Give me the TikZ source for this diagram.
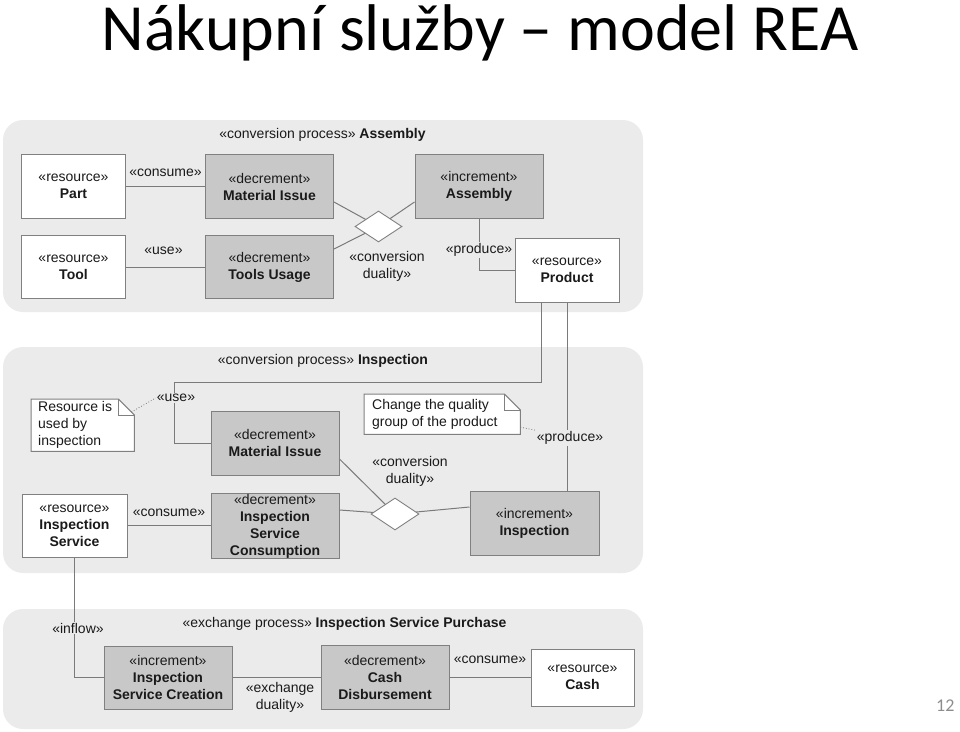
\documentclass[tikz,border=0pt]{standalone}
\usepackage{fontspec}
\setmainfont{Liberation Sans}
\newfontfamily\titlefont{Carlito}
\usetikzlibrary{shapes.geometric}
\definecolor{panelbg}{HTML}{EBEBEB}
\definecolor{boxgray}{HTML}{C8C8C8}
\definecolor{edgegray}{HTML}{808080}
\definecolor{linegray}{HTML}{7A7A7A}
\definecolor{txt}{HTML}{1A1A1A}
\definecolor{pagenum}{HTML}{8C8C8C}
\begin{document}
\begin{tikzpicture}[x=1pt,y=-1pt, font=\fontsize{14}{17}\selectfont, text=txt,
  panel/.style={fill=panelbg, draw=none, rounded corners=20pt},
  resbox/.style={draw=edgegray, fill=white, line width=1pt, align=center, inner sep=0pt},
  evbox/.style={resbox, fill=boxgray},
  dia/.style={diamond, draw=edgegray, fill=white, line width=0.9pt, inner sep=0pt, minimum width=48pt, minimum height=32pt},
  conn/.style={draw=linegray, line width=1pt},
  lbl/.style={fill=panelbg, inner sep=1pt, align=center},
  lblt/.style={inner sep=1pt, align=center},
  dotline/.style={draw=linegray, dotted, line width=0.8pt},
  notegeom/.style={draw=none, inner sep=0pt},
  noteline/.style={draw=edgegray, fill=white, line width=1pt},
  notetext/.style={inner sep=0pt, align=left, anchor=west}
]
\useasboundingbox (0,0) rectangle (960,731);

% title and page number
\node[anchor=base, font=\titlefont\fontsize{66}{70}\selectfont, text=black] (title) at (480,50) {Nákupní služby – model REA};
\node[anchor=base east, font=\titlefont\fontsize{18}{20}\selectfont, text=pagenum] (pnum) at (958,711) {12};

% panels
\path[panel] (3,120) rectangle (643,312);
\path[panel] (3,347) rectangle (643,573);
\path[panel] (3,609) rectangle (643,729);

\node (t1) at (322.5,135) {«conversion process» \textbf{Assembly}};
\node (t2) at (323,361) {«conversion process» \textbf{Inspection}};
\node (t3) at (344.5,624) {«exchange process» \textbf{Inspection Service Purchase}};

% ---------- panel 1 ----------
\node[resbox, minimum width=104, minimum height=64] (part) at (73.5,186.5) {«resource»\\\textbf{Part}};
\node[evbox, minimum width=128, minimum height=64] (mi1) at (269.5,186.5) {«decrement»\\\textbf{Material Issue}};
\node[evbox, minimum width=128, minimum height=64] (asm) at (479,186.5) {«increment»\\\textbf{Assembly}};
\node[resbox, minimum width=104, minimum height=63] (tool) at (73.5,267) {«resource»\\\textbf{Tool}};
\node[evbox, minimum width=128, minimum height=63] (tu) at (269.5,267) {«decrement»\\\textbf{Tools Usage}};
\node[resbox, minimum width=104, minimum height=64] (prod) at (567,270) {«resource»\\\textbf{Product}};

\draw[conn] (part.east) -- (mi1.west) node[lblt, midway, yshift=14pt] (consume1) {«consume»};
\draw[conn] (tool.east) -- (tu.west) node[lblt, midway, yshift=16pt, xshift=-2pt] (use1) {«use»};
\draw[conn] ([yshift=-15.5pt]mi1.east) -- (378.5,226.5);
\draw[conn] ([yshift=18pt]tu.east) -- (378.5,226.5);
\draw[conn] ([yshift=-15.5pt]asm.west) -- (378.5,226.5);
\node[dia, minimum width=47pt, minimum height=31pt] (dia1) at (378.5,226.5) {};
\node[lblt] (cd1) at (387,266) {«conversion\\duality»};
\draw[conn] (asm.south) |- (prod.west);
\node[lbl] (prod1) at (479,250) {«produce»};

% ---------- panel 2 ----------
\node[evbox, minimum width=128, minimum height=64] (mi2) at (275,443) {«decrement»\\\textbf{Material Issue}};
\node[resbox, minimum width=105, minimum height=63] (insv) at (74.5,525.5) {«resource»\\\textbf{Inspection}\\\textbf{Service}};
\node[evbox, minimum width=128, minimum height=64] (isc) at (275,526) {«decrement»\\\textbf{Inspection}\\\textbf{Service}\\\textbf{Consumption}};
\node[evbox, minimum width=129, minimum height=64] (inc) at (534.5,523) {«increment»\\\textbf{Inspection}};

% lines from product
\coordinate (bendA) at (174,382);
\draw[conn] ([xshift=-26pt]prod.south) |- (bendA) |- (mi2.west);
\draw[conn] (prod.south) -- (prod.south |- inc.north);
\node[lbl] (use2) at (176,398) {«use»};
\node[lbl] (prod2) at (570,438) {«produce»};

% notes
\node[notegeom, minimum width=103, minimum height=52, anchor=north west] (note1) at (31,399) {};
\path[noteline] (note1.north west) -- ([xshift=-16pt]note1.north east) -- ([yshift=-16pt]note1.north east) -- (note1.south east) -- (note1.south west) -- cycle;
\draw[draw=edgegray, line width=1pt] ([xshift=-16pt]note1.north east) |- ([yshift=-16pt]note1.north east);
\node[notetext] (note1t) at ([xshift=7pt]note1.west) {Resource is\\used by\\inspection};

\node[notegeom, minimum width=156, minimum height=40, anchor=north west] (note2) at (364,394) {};
\path[noteline] (note2.north west) -- ([xshift=-16pt]note2.north east) -- ([yshift=-16pt]note2.north east) -- (note2.south east) -- (note2.south west) -- cycle;
\draw[draw=edgegray, line width=1pt] ([xshift=-16pt]note2.north east) |- ([yshift=-16pt]note2.north east);
\node[notetext] (note2t) at ([xshift=8pt]note2.west) {Change the quality\\group of the product};

\draw[dotline] ([xshift=-3pt, yshift=-13pt]note1.north east) -- (use2.west);
\draw[dotline] ([yshift=-13pt]note2.east) -- (prod2.north west);

% inspection connectors
\draw[conn] (insv.east) -- (insv.east -| isc.west) node[lblt, midway, yshift=13pt] (consume2) {«consume»};
\draw[conn] ([yshift=-16pt]mi2.east) -- (395,514);
\draw[conn] ([yshift=16pt]isc.east) -- (395,514);
\draw[conn] (395,514) -- ([yshift=16pt]inc.west);
\node[dia] (dia2) at (395,514) {};
\node[lblt] (cd2) at (410,471) {«conversion\\duality»};

% ---------- panel 3 ----------
\node[evbox, minimum width=128, minimum height=63] (isc2) at (168,677.5) {«increment»\\\textbf{Inspection}\\\textbf{Service Creation}};
\node[evbox, minimum width=128, minimum height=64] (cdis) at (385,677) {«decrement»\\\textbf{Cash}\\\textbf{Disbursement}};
\node[resbox, minimum width=103, minimum height=57] (cash) at (582.5,677.5) {«resource»\\\textbf{Cash}};

\draw[conn] (insv.south) |- (isc2.west);
\node[lbl] (inflow) at (78,628) {«inflow»};
\draw[conn] (isc2.east) -- (isc2.east -| cdis.west);
\node[lblt] (exd) at (280,697.5) {«exchange\\duality»};
\draw[conn] (cdis.east) -- (cdis.east -| cash.west) node[lblt, midway, yshift=17pt] (consume3) {«consume»};
\end{tikzpicture}
\end{document}
